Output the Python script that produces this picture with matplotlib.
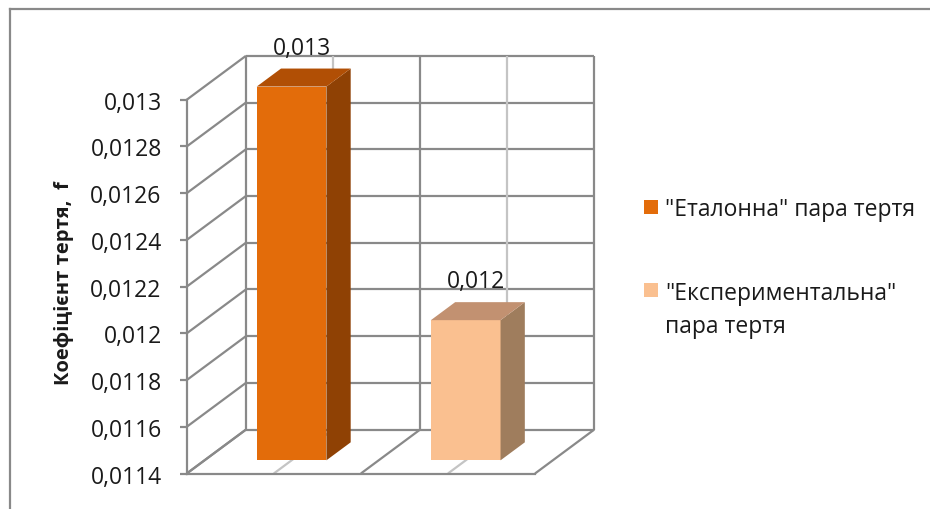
import matplotlib
matplotlib.use("Agg")
import matplotlib.pyplot as plt
from matplotlib.patches import Polygon, Rectangle
from matplotlib.lines import Line2D

plt.rcParams['font.family'] = ['Open Sans', 'DejaVu Sans']

# data
categories = ['"Еталонна" пара тертя', '"Експериментальна"\nпара тертя']
values = [0.013, 0.012]
value_labels = ['0,013', '0,012']
yticks = [0.0114, 0.0116, 0.0118, 0.012, 0.0122, 0.0124, 0.0126, 0.0128, 0.013]
ytick_labels = ['0,0114', '0,0116', '0,0118', '0,012', '0,0122', '0,0124',
                '0,0126', '0,0128', '0,013']
ylabel = 'Коефіцієнт тертя,  f'

front_colors = ['#E36C0A', '#FAC090']
side_colors = ['#8F4104', '#9F7D5D']
top_colors = ['#B14F05', '#C29171']

grid_dark = '#898989'
grid_light = '#C4C4C4'
text_color = '#1a1a1a'

W, H = 930, 510
ymin, ymax = yticks[0], yticks[-1]
n = len(values)

# 3D depth vector (full floor depth) in data units
DX = 0.34
DY = 0.000188
BAR_W = 0.4
D0, D1 = 0.30, 0.71


def shift(x, y, d):
    return x + d * DX, y + d * DY


fig = plt.figure(figsize=(W / 100, H / 100), dpi=100)
ax = fig.add_axes([0.2008, 0.0696, 0.3745, 0.7329])
ax.set_xlim(0, n)
ax.set_ylim(ymin, ymax)
ax.patch.set_visible(False)


def seg(p, q, color=grid_dark, lw=1.6, z=1):
    ax.add_line(Line2D([p[0], q[0]], [p[1], q[1]], color=color, lw=lw,
                       clip_on=False, zorder=z, solid_capstyle='butt'))


# back wall
for v in yticks:
    seg(shift(0, v, 1), shift(n, v, 1))
for k in range(2 * n + 1):
    x = k / 2
    c = grid_dark if k % 2 == 0 else grid_light
    seg(shift(x, ymin, 1), shift(x, ymax, 1), color=c)

# left wall
for v in yticks:
    seg((0, v), shift(0, v, 1))

# floor
for k in range(2 * n + 1):
    x = k / 2
    c = grid_dark if k % 2 == 0 else grid_light
    seg((x, ymin), shift(x, ymin, 1), color=c)

# bars
for i, v in enumerate(values):
    x0 = i + (1 - BAR_W) / 2
    x1 = x0 + BAR_W
    front = [shift(x0, ymin, D0), shift(x1, ymin, D0),
             shift(x1, v, D0), shift(x0, v, D0)]
    side = [shift(x1, ymin, D0), shift(x1, ymin, D1),
            shift(x1, v, D1), shift(x1, v, D0)]
    top = [shift(x0, v, D0), shift(x1, v, D0),
           shift(x1, v, D1), shift(x0, v, D1)]
    for pts, c in ((front, front_colors[i]), (side, side_colors[i]),
                   (top, top_colors[i])):
        ax.add_patch(Polygon(pts, closed=True, facecolor=c, edgecolor='none',
                             clip_on=False, zorder=3))
    lx, ly = shift(i + 0.5, v, (D0 + D1) / 2 - 0.03)
    ax.annotate(value_labels[i], xy=(lx, v + D1 * DY), xytext=(0, 15),
                textcoords='offset points', ha='center', va='center',
                fontsize=16.5, color=text_color, zorder=4,
                annotation_clip=False)

# axes styling
for s in ('top', 'right'):
    ax.spines[s].set_visible(False)
for s in ('left', 'bottom'):
    ax.spines[s].set_color(grid_dark)
    ax.spines[s].set_linewidth(1.6)
    ax.spines[s].set_zorder(2)
ax.set_xticks([])
ax.set_yticks(yticks)
ax.set_yticklabels(ytick_labels)
ax.tick_params(axis='y', length=5, width=1.6, color=grid_dark, pad=13,
               labelsize=16.5, labelcolor=text_color)

fig.text(64 / W, 1 - 283 / H, ylabel, rotation=90, ha='center',
         va='center', fontsize=14.5, fontweight='bold', color=text_color)

# legend: square + label, square lined up with the first text line
legend_rows = [207.5, 291]
for i, (label, yc) in enumerate(zip(categories, legend_rows)):
    fig.add_artist(Rectangle((644 / W, 1 - (yc + 7) / H), 14 / W, 14 / H,
                             facecolor=front_colors[i], edgecolor='none',
                             transform=fig.transFigure))
    fig.text(665 / W, 1 - (yc - 9) / H, label, ha='left', va='top',
             fontsize=16.5, color=text_color, linespacing=1.5)

# outer chart border
fig.add_artist(Line2D([10 / W, 1], [1 - 10 / H] * 2, color=grid_dark,
                      lw=1.6, transform=fig.transFigure))
fig.add_artist(Line2D([10 / W] * 2, [0, 1 - 10 / H], color=grid_dark,
                      lw=1.6, transform=fig.transFigure))

fig.savefig('out.png', dpi=100)
